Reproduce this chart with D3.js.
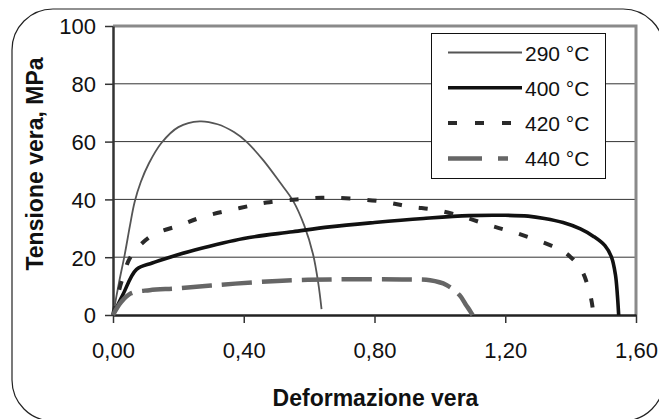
<!DOCTYPE html>
<html>
<head>
<meta charset="utf-8">
<script src="https://cdn.jsdelivr.net/npm/d3@7"></script>
<style>
  body { margin: 0; background: #fff; }
  svg { display: block; font-family: "Liberation Sans", Arial, sans-serif; }
</style>
</head>
<body>
<div id="chart"></div>
<script>
// data
const xTicks = [0, 0.4, 0.8, 1.2, 1.6];
const yTicks = [0, 20, 40, 60, 80, 100];
const seriesNames = ['290 °C', '400 °C', '420 °C', '440 °C'];

const strain290 = [0, 0.018, 0.036, 0.052, 0.066, 0.085, 0.11, 0.148, 0.2, 0.265, 0.32, 0.37, 0.408, 0.46, 0.51, 0.551, 0.585, 0.612, 0.628, 0.638];
const stress290 = [0, 11, 21, 31, 39, 46, 52.5, 59.5, 65, 67, 66, 63.3, 60, 53.5, 46, 39.5, 31, 21, 11, 2];

const strain400 = [0, 0.03, 0.072, 0.12, 0.174, 0.25, 0.4, 0.55, 0.663, 0.8, 0.95, 1.09, 1.2, 1.27, 1.32, 1.377, 1.43, 1.47, 1.505, 1.525, 1.537, 1.543, 1.547];
const stress400 = [0, 7, 15.8, 18, 20, 22.5, 26.5, 28.8, 30.5, 32, 33.4, 34.4, 34.5, 34.2, 33.4, 32, 29.8, 27.2, 24, 20, 14, 7, 0];

const strain420 = [0, 0.026, 0.056, 0.122, 0.204, 0.276, 0.388, 0.47, 0.561, 0.638, 0.725, 0.827, 0.908, 0.99, 1.071, 1.153, 1.235, 1.337, 1.372, 1.43, 1.46, 1.468];
const stress420 = [0, 11.5, 20.5, 27.7, 31, 34, 37, 38.9, 40, 40.6, 40.3, 39.2, 37.5, 36.3, 34, 31, 28.3, 24.2, 22.5, 16.2, 6.9, 2];

const strain440 = [0, 0.025, 0.055, 0.112, 0.194, 0.3, 0.43, 0.55, 0.663, 0.8, 0.9, 0.97, 1.02, 1.06, 1.08, 1.092, 1.1];
const stress440 = [0, 4.5, 7.5, 8.6, 9.2, 10.2, 11.3, 12, 12.3, 12.4, 12.3, 12, 10.4, 6.9, 3.5, 1.5, 0];

const width = 659;
const height = 419;
const plot = {left: 113, right: 636, top: 26, bottom: 315};

const styles = [
  {color: '#555', w: 1.8, dash: null, legendDash: null},
  {color: '#111', w: 3.6, dash: null, legendDash: null},
  {color: '#2a2a2a', w: 4, dash: '9,17', legendDash: '9,18'},
  {color: '#666', w: 4.5, dash: '30,10', legendDash: '34,16,10,14'}
];

const series = [
  strain290.map((x, i) => [x, stress290[i]]),
  strain400.map((x, i) => [x, stress400[i]]),
  strain420.map((x, i) => [x, stress420[i]]),
  strain440.map((x, i) => [x, stress440[i]])
];

const xScale = d3.scaleLinear().domain([0, 1.6]).range([plot.left, plot.right]);
const yScale = d3.scaleLinear().domain([0, 100]).range([plot.bottom, plot.top]);

const svg = d3.select('#chart').append('svg')
  .attr('width', width)
  .attr('height', height);

// outer rounded frame
svg.append('rect')
  .attr('x', 12).attr('y', 9)
  .attr('width', 652).attr('height', 412)
  .attr('rx', 41).attr('ry', 41)
  .attr('fill', 'none')
  .attr('stroke', '#222')
  .attr('stroke-width', 1.2);

// gridlines
svg.append('g')
  .selectAll('line')
  .data(yTicks.filter(d => d > 0 && d < 100))
  .join('line')
  .attr('x1', plot.left).attr('x2', plot.right)
  .attr('y1', d => yScale(d)).attr('y2', d => yScale(d))
  .attr('stroke', '#333')
  .attr('stroke-width', 1);

// top and right borders
svg.append('path')
  .attr('d', `M${plot.left},${plot.top}H${plot.right}V${plot.bottom}`)
  .attr('fill', 'none')
  .attr('stroke', '#8a8a8a')
  .attr('stroke-width', 3);

// axes
const fmt = d => d3.format('.2f')(d).replace('.', ',');

const xAxis = svg.append('g')
  .attr('transform', `translate(0,${plot.bottom})`)
  .call(d3.axisBottom(xScale).tickValues(xTicks).tickFormat(fmt).tickSize(8).tickSizeOuter(0));
xAxis.select('.domain').attr('stroke', '#222').attr('stroke-width', 2.5);
xAxis.selectAll('.tick line').attr('stroke', '#333').attr('stroke-width', 1.5);
xAxis.selectAll('.tick text')
  .attr('y', 43).attr('dy', 0)
  .style('font-size', '22px')
  .attr('fill', '#111');

const yAxis = svg.append('g')
  .attr('transform', `translate(${plot.left},0)`)
  .call(d3.axisLeft(yScale).tickValues(yTicks).tickSize(8).tickSizeOuter(0));
yAxis.select('.domain').attr('stroke', '#333').attr('stroke-width', 2.5);
yAxis.selectAll('.tick line').attr('stroke', '#333').attr('stroke-width', 1.5);
yAxis.selectAll('.tick text')
  .attr('x', -17).attr('dy', '0.36em')
  .style('font-size', '22px')
  .attr('fill', '#111');

// axis titles
svg.append('text')
  .attr('x', (plot.left + plot.right) / 2 + 1)
  .attr('y', 406)
  .attr('text-anchor', 'middle')
  .style('font-size', '23px')
  .style('font-weight', 'bold')
  .attr('fill', '#111')
  .text('Deformazione vera');

svg.append('text')
  .attr('transform', 'translate(42.5,164) rotate(-90)')
  .attr('text-anchor', 'middle')
  .style('font-size', '23px')
  .style('font-weight', 'bold')
  .attr('fill', '#111')
  .text('Tensione vera, MPa');

// curves
const line = d3.line()
  .x(d => xScale(d[0]))
  .y(d => yScale(d[1]))
  .curve(d3.curveCatmullRom.alpha(0.5));

svg.append('g')
  .selectAll('path')
  .data(series)
  .join('path')
  .attr('d', line)
  .attr('fill', 'none')
  .attr('stroke', (d, i) => styles[i].color)
  .attr('stroke-width', (d, i) => styles[i].w)
  .attr('stroke-dasharray', (d, i) => styles[i].dash)
  .attr('stroke-linejoin', 'round');

// legend
const legend = svg.append('g');
legend.append('rect')
  .attr('x', 431.5).attr('y', 33.5)
  .attr('width', 174).attr('height', 145)
  .attr('fill', '#fff')
  .attr('stroke', '#111')
  .attr('stroke-width', 1);

const rowY = i => 52.5 + i * 35.3;

legend.selectAll('line')
  .data(seriesNames)
  .join('line')
  .attr('x1', 448).attr('x2', 522)
  .attr('y1', (d, i) => rowY(i)).attr('y2', (d, i) => rowY(i))
  .attr('stroke', (d, i) => styles[i].color)
  .attr('stroke-width', (d, i) => styles[i].w)
  .attr('stroke-dasharray', (d, i) => styles[i].legendDash);

legend.selectAll('text')
  .data(seriesNames)
  .join('text')
  .attr('x', 525)
  .attr('y', (d, i) => rowY(i) + 8)
  .style('font-size', '21px')
  .attr('fill', '#111')
  .text(d => d);
</script>
</body>
</html>
